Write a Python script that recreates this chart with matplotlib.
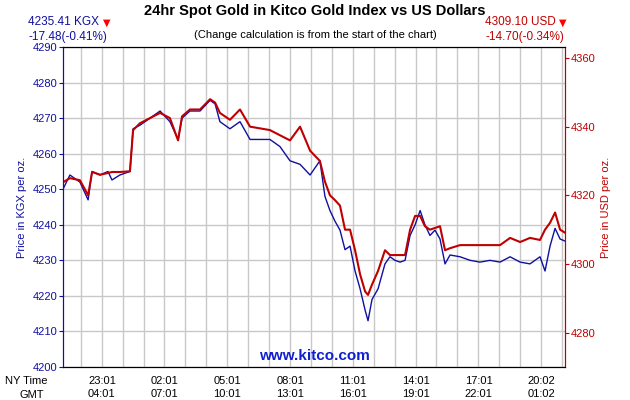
import matplotlib
matplotlib.use("Agg")
import matplotlib.pyplot as plt

plt.rcParams['font.family'] = ['Liberation Sans', 'DejaVu Sans']

hours = [0,0.33,0.81,1.20,1.39,1.77,2.15,2.34,2.72,3.20,3.35,3.68,4.16,4.64,5.11,5.50,5.69,6.07,6.55,7.03,
         7.27,7.50,7.98,8.46,8.94,9.42,9.89,10.37,10.85,11.33,11.81,12.28,12.52,12.76,13.00,13.24,13.48,13.72,
         13.96,14.20,14.44,14.58,14.77,15.06,15.39,15.63,15.87,16.11,16.35,16.59,16.83,17.07,17.30,17.54,17.78,
         18.02,18.26,18.50,18.98,19.46,19.93,20.41,20.89,21.37,21.85,22.32,22.80,23.04,23.28,23.52,23.76,24.00]
kgx = [4250,4254,4252,4247,4255,4254,4255,4252.6,4254,4255,4267,4268,4270,4272,4269,4264,4270,4272,4272,4275,
       4274,4269,4267,4269,4264,4264,4264,4262,4258,4257,4254,4258,4248,4244,4241,4238.5,4233,4234,
       4227,4222,4216,4213,4219,4222,4229,4231,4230,4229.5,4230,4237,4240,4244,4240,4237,4238.5,
       4236,4229,4231.5,4231,4230,4229.5,4230,4229.5,4231,4229.5,4229,4231,4227,4234,4239,4236,4235.4]
usd = [4323.8,4325,4324.4,4320,4326.8,4326,4326.5,4326.8,4326.8,4327,4339,4341,4342.5,4344,4342.5,4336,4343,4345,4345,4348,
       4347,4344,4342,4345,4340,4339.5,4339,4337.5,4336,4340,4333,4330,4324,4320,4318.6,4317,4310,4310,
       4304,4297,4292,4291,4294,4298,4304,4302.6,4302.6,4302.6,4302.6,4310,4314,4314,4311,4310,4310.5,
       4311,4304,4304.6,4305.5,4305.5,4305.5,4305.5,4305.5,4307.6,4306.4,4307.6,4307,4310,4312,4315,4310,4309.1]
ny_labels = ["23:01","02:01","05:01","08:01","11:01","14:01","17:01","20:02"]
gmt_labels = ["04:01","07:01","10:01","13:01","16:01","19:01","22:01","01:02"]
left_ticks = list(range(4200, 4291, 10))
right_ticks = [4280, 4300, 4320, 4340, 4360]

blue = '#1010a0'
red = '#c00000'

fig = plt.figure(figsize=(6.3, 4.0), dpi=100)
ax = fig.add_axes([0.1, 0.0825, 0.797, 0.8])
ax.set_xlim(0, 24)
ax.set_ylim(4200, 4290)
grid_x = [0.85 + k for k in range(24)]
for g in grid_x:
    ax.axvline(g, color='#c8c8c8', lw=1, zorder=0)
for t in left_ticks:
    ax.axhline(t, color='#c8c8c8', lw=1, zorder=0)
ax.set_yticks(left_ticks)
ax.tick_params(axis='y', colors=blue, labelsize=8, length=3, pad=1)
ax.set_xticks([])
ax.set_ylabel('Price in KGX per oz.', color=blue, fontsize=8, labelpad=4)
ax.spines['left'].set_color(blue)
ax.spines['right'].set_color(red)
ax.plot(hours, kgx, color=blue, lw=1, zorder=3)

ax2 = ax.twinx()
ax2.set_ylim(4270, 4363.2)
ax2.set_yticks(right_ticks)
ax2.tick_params(axis='y', colors=red, labelsize=8, length=3, pad=1)
ax2.set_ylabel('Price in USD per oz.', color=red, fontsize=8, labelpad=4)
ax2.spines['right'].set_color(red)
ax2.spines['left'].set_color(blue)
ax2.plot(hours, usd, color=red, lw=1.5, zorder=2)
ax2.set_xlim(0, 24)

label_x = [1.86 + 3 * k for k in range(8)]
for lx, a, b in zip(label_x, ny_labels, gmt_labels):
    ax.text(lx, -0.028, a, transform=ax.get_xaxis_transform(), ha='center', va='top', fontsize=8)
    ax.text(lx, -0.07, b, transform=ax.get_xaxis_transform(), ha='center', va='top', fontsize=8)
fig.text(0.075, 0.06, 'NY Time', ha='right', va='top', fontsize=8)
fig.text(0.07, 0.026, 'GMT', ha='right', va='top', fontsize=8)

ax.text(0.5, 0.012, 'www.kitco.com', transform=ax.transAxes, ha='center', va='bottom',
        fontsize=11, fontweight='bold', color='#1020d0')

fig.text(0.5, 0.99, '24hr Spot Gold in Kitco Gold Index vs US Dollars', ha='center', va='top',
         fontsize=10.5, fontweight='bold')
fig.text(0.5, 0.925, '(Change calculation is from the start of the chart)', ha='center', va='top', fontsize=8)
fig.text(0.045, 0.96, '4235.41 KGX', ha='left', va='top', fontsize=8.5, color=blue)
fig.text(0.045, 0.922, '-17.48(-0.41%)', ha='left', va='top', fontsize=8.5, color=blue)
fig.text(0.163, 0.955, '▼', ha='left', va='top', fontsize=7, color='red', family='DejaVu Sans')
fig.text(0.77, 0.96, '4309.10 USD', ha='left', va='top', fontsize=8.5, color=red)
fig.text(0.77, 0.922, '-14.70(-0.34%)', ha='left', va='top', fontsize=8.5, color=red)
fig.text(0.888, 0.955, '▼', ha='left', va='top', fontsize=7, color='red', family='DejaVu Sans')

fig.savefig('out.png', dpi=100)
